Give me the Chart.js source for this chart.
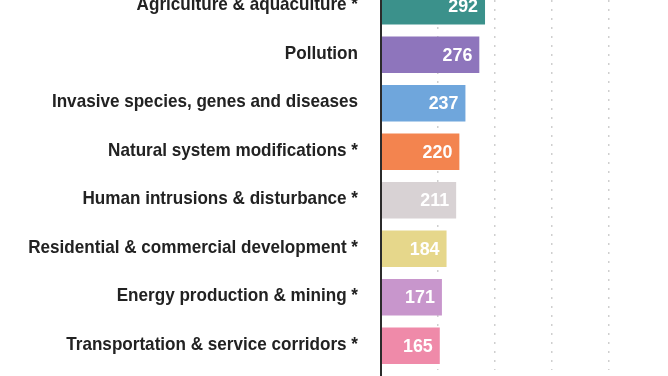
<!DOCTYPE html>
<html>
<head>
<meta charset="utf-8">
<script src="https://cdn.jsdelivr.net/npm/chart.js@4"></script>
<style>
  html, body { margin: 0; padding: 0; background: #fff; overflow: hidden; }
  #wrap { position: relative; width: 668px; height: 376px; overflow: hidden; }
  #box { position: absolute; left: 0; top: -24px; width: 668px; height: 404px; }
</style>
</head>
<body>
<div id="wrap"><div id="box"><canvas id="threats"></canvas></div></div>
<script>
// threat categories (top one is cut off in the picture)
const categories = [
    'Agriculture & aquaculture *',
    'Pollution',
    'Invasive species, genes and diseases',
    'Natural system modifications *',
    'Human intrusions & disturbance *',
    'Residential & commercial development *',
    'Energy production & mining *',
    'Transportation & service corridors *'
];
const counts = [292, 276, 237, 220, 211, 184, 171, 165];
const barColors = ['#3b918b', '#8e75bc', '#6fa6dc', '#f3844f', '#d8d2d4', '#e6d78b', '#c896cc', '#ef8aa9'];
const xTicks = [0, 160, 320, 480, 640, 800];

const fontFamily = '"Liberation Sans", Arial, sans-serif';

// draw text squeezed sideways, like a narrow font
function narrowText(ctx, text, x, y, sx) {
    ctx.save();
    ctx.translate(x, y);
    ctx.scale(sx, 1);
    ctx.fillText(text, 0, 0);
    ctx.restore();
}

// category names left of the axis and white numbers inside the bar ends
const barTexts = {
    id: 'barTexts',
    afterDatasetsDraw(chart) {
        var ctx = chart.ctx;
        var meta = chart.getDatasetMeta(0);
        var yScale = chart.scales.y;
        ctx.save();
        ctx.textAlign = 'right';
        ctx.textBaseline = 'middle';

        ctx.font = 'bold 19px ' + fontFamily;
        ctx.fillStyle = '#222222';
        categories.forEach(function (name, i) {
            narrowText(ctx, name, yScale.right - 23, yScale.getPixelForTick(i) - 1, 0.9);
        });

        ctx.font = 'bold 19px ' + fontFamily;
        ctx.fillStyle = '#ffffff';
        meta.data.forEach(function (bar, i) {
            narrowText(ctx, String(counts[i]), bar.x - 7, bar.y + 1, 0.94);
        });
        ctx.restore();
    }
};

// y axis line running down the whole picture
const axisLine = {
    id: 'axisLine',
    afterDraw(chart) {
        var ctx = chart.ctx;
        var x = chart.scales.x.getPixelForValue(0);
        ctx.save();
        ctx.strokeStyle = '#2b2b2b';
        ctx.lineWidth = 2;
        ctx.beginPath();
        ctx.moveTo(x, 0);
        ctx.lineTo(x, chart.height);
        ctx.stroke();
        ctx.restore();
    }
};

new Chart(document.getElementById('threats').getContext('2d'), {
    type: 'bar',
    data: {
        labels: categories,
        datasets: [{
            data: counts,
            backgroundColor: barColors,
            borderWidth: 0,
            barPercentage: 0.75,
            categoryPercentage: 1
        }]
    },
    options: {
        indexAxis: 'y',
        responsive: true,
        maintainAspectRatio: false,
        animation: false,
        layout: { padding: { top: 6, bottom: 10, left: 0, right: 2 } },
        plugins: { legend: { display: false }, tooltip: { enabled: false } },
        scales: {
            x: {
                min: 0,
                max: 800,
                afterBuildTicks: function (scale) {
                    scale.ticks = xTicks.map(function (v) { return { value: v }; });
                },
                afterFit: function (scale) { scale.height = 0; },
                ticks: { display: false },
                grid: {
                    drawTicks: false,
                    color: function (c) {
                        return (c.tick && (c.tick.value === 0 || c.tick.value === 800)) ? 'rgba(0,0,0,0)' : '#cfcfcf';
                    },
                    lineWidth: 1.5
                },
                border: { display: false, dash: [2, 7] }
            },
            y: {
                afterFit: function (scale) {
                    scale.width = 381;
                    scale.paddingTop = 0;
                    scale.paddingBottom = 0;
                },
                border: { display: false },
                grid: { display: false, drawTicks: false },
                ticks: { display: false }
            }
        }
    },
    plugins: [barTexts, axisLine]
});
</script>
</body>
</html>
